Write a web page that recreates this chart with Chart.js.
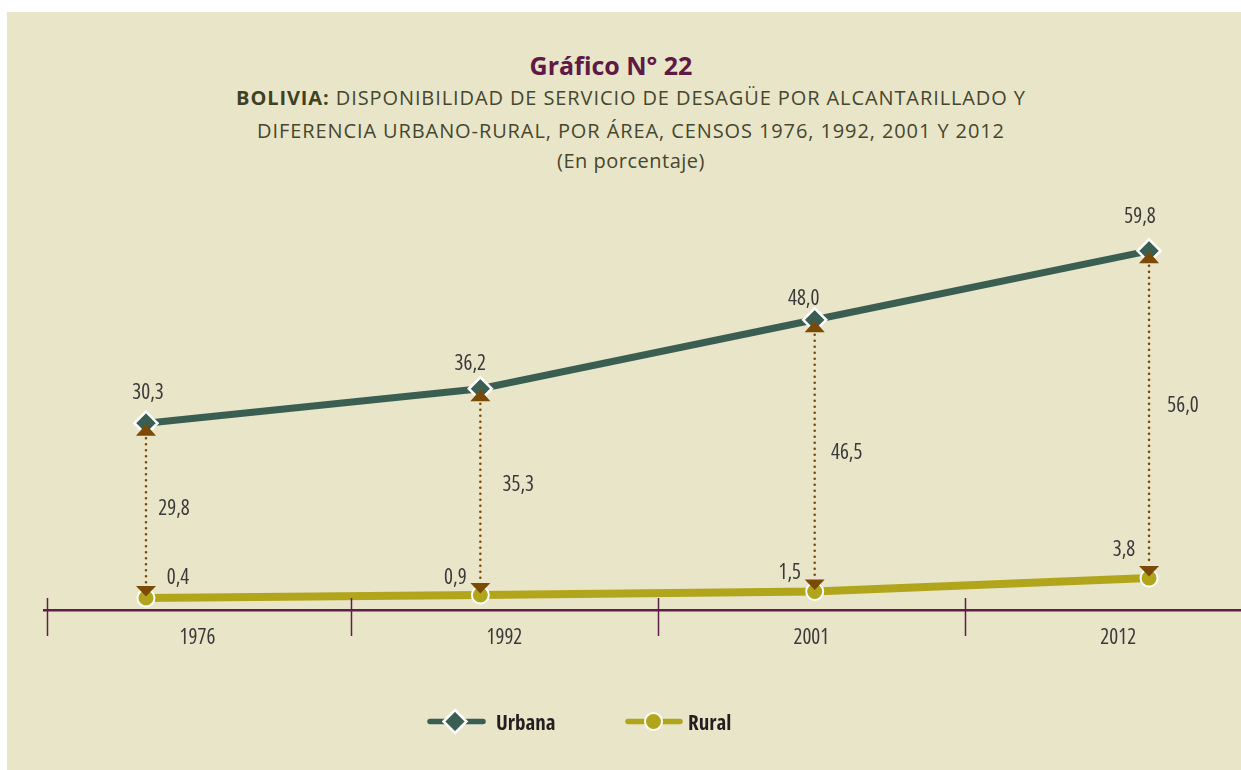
<!DOCTYPE html>
<html><head><meta charset="utf-8">
<script src="https://cdn.jsdelivr.net/npm/chart.js@4/dist/chart.umd.min.js"></script>
<style>
html,body{margin:0;padding:0;background:#fff;width:1241px;height:770px;overflow:hidden}
#panel{position:absolute;left:7px;top:12px;width:1234px;height:758px;background:#e9e5c8}
#chart{position:absolute;left:0;top:0}
.hdr{position:absolute;text-align:center;white-space:nowrap;font-family:"Open Sans",sans-serif;line-height:30px}
#t1{left:0;width:1208px;top:37.6px;font-size:25px;font-weight:bold;font-stretch:96%;color:#5e1944}
.sub{left:0;width:1248px;font-size:20px;letter-spacing:0.9px;color:#46472f}
#t2{top:70.9px}
#t3{top:103.5px}
#t4{top:133.7px;letter-spacing:0.5px}
.sub b{color:#3e4222}
</style></head>
<body>
<div id="panel">
  <div class="hdr" id="t1">Gráfico N° 22</div>
  <div class="hdr sub" id="t2"><b>BOLIVIA:</b> DISPONIBILIDAD DE SERVICIO DE DESAGÜE POR ALCANTARILLADO Y</div>
  <div class="hdr sub" id="t3">DIFERENCIA URBANO-RURAL, POR ÁREA, CENSOS 1976, 1992, 2001 Y 2012</div>
  <div class="hdr sub" id="t4">(En porcentaje)</div>
  <canvas id="chart" width="1234" height="758"></canvas>
</div>
<script>
const years = ['1976', '1992', '2001', '2012'];
const urbana = [30.3, 36.2, 48.0, 59.8];
const rural = [0.4, 0.9, 1.5, 3.8];
const diferencia = [29.8, 35.3, 46.5, 56.0];
const seriesNames = ['Urbana', 'Rural'];

const FAM = '"Open Sans", sans-serif';
const C_URB = '#3b5e52', C_RUR = '#b1a61b', C_BROWN = '#7a4a06', C_AXIS = '#5d1e47', C_TXT = '#3a3a3a';
const fmt = v => v.toFixed(1).replace('.', ',');
function setFont(ctx, spec) {
  ctx.font = 'condensed ' + spec + ' ' + FAM;
  if ('fontStretch' in ctx) ctx.fontStretch = 'condensed';
}

const deco = {
  id: 'deco',
  afterDatasetsDraw(chart, args, o) {
    const ctx = chart.ctx;
    const mu = chart.getDatasetMeta(0).data, mr = chart.getDatasetMeta(1).data;
    ctx.save();
    for (let i = 0; i < mu.length; i++) {
      const x = mu[i].x, uy = mu[i].y, ry = mr[i].y;
      ctx.strokeStyle = C_BROWN; ctx.lineWidth = 2.6; ctx.lineCap = 'round';
      ctx.setLineDash([0, 6]);
      ctx.beginPath(); ctx.moveTo(x, uy + 15); ctx.lineTo(x, ry - 14); ctx.stroke();
      ctx.setLineDash([]);
      ctx.fillStyle = C_BROWN;
      ctx.beginPath(); ctx.moveTo(x, uy + 1); ctx.lineTo(x + 10, uy + 12.5); ctx.lineTo(x - 10, uy + 12.5); ctx.closePath(); ctx.fill();
      ctx.beginPath(); ctx.moveTo(x, ry - 1.5); ctx.lineTo(x + 10, ry - 12); ctx.lineTo(x - 10, ry - 12); ctx.closePath(); ctx.fill();
    }
    setFont(ctx, '400 21px');
    ctx.fillStyle = C_TXT; ctx.textAlign = 'center'; ctx.textBaseline = 'alphabetic';
    const cap = 7.5;
    for (let i = 0; i < mu.length; i++) {
      const uo = o.urbOff[i], ro = o.rurOff[i], dofs = o.difOff[i];
      ctx.fillText(fmt(urbana[i]), mu[i].x + uo[0], mu[i].y + uo[1] + cap);
      ctx.fillText(fmt(rural[i]), mr[i].x + ro[0], mr[i].y + ro[1] + cap);
      ctx.fillText(fmt(diferencia[i]), mu[i].x + dofs[0], (mu[i].y + mr[i].y) / 2 + dofs[1] + cap);
    }
    ctx.restore();
  },
  afterDraw(chart) {
    const ctx = chart.ctx, s = chart.scales.xa;
    ctx.save();
    ctx.strokeStyle = C_AXIS; ctx.lineWidth = 1.5;
    for (let v = 0; v <= years.length - 1; v++) {
      const px = Math.round(Math.max(s.getPixelForValue(v), chart.chartArea.left + 3)) + 0.5;
      ctx.beginPath(); ctx.moveTo(px, s.top - 12); ctx.lineTo(px, s.top + 26); ctx.stroke();
    }
    // legend
    const ly = 709.5;
    ctx.lineCap = 'round';
    ctx.strokeStyle = C_URB; ctx.lineWidth = 5.5;
    ctx.beginPath(); ctx.moveTo(423, ly); ctx.lineTo(476, ly); ctx.stroke();
    ctx.fillStyle = C_URB; ctx.strokeStyle = '#fff'; ctx.lineWidth = 2.5;
    ctx.beginPath(); ctx.moveTo(448, ly - 11.5); ctx.lineTo(459.5, ly); ctx.lineTo(448, ly + 11.5); ctx.lineTo(436.5, ly); ctx.closePath(); ctx.fill(); ctx.stroke();
    ctx.strokeStyle = C_RUR; ctx.lineWidth = 5.5;
    ctx.beginPath(); ctx.moveTo(621, ly); ctx.lineTo(673, ly); ctx.stroke();
    ctx.fillStyle = C_RUR; ctx.strokeStyle = '#fff'; ctx.lineWidth = 2;
    ctx.beginPath(); ctx.arc(646.5, ly, 8.5, 0, Math.PI * 2); ctx.fill(); ctx.stroke();
    setFont(ctx, 'bold 21px');
    ctx.fillStyle = '#231f20'; ctx.textAlign = 'left'; ctx.textBaseline = 'alphabetic';
    ctx.fillText(seriesNames[0], 489, 718);
    ctx.fillText(seriesNames[1], 681, 718);
    ctx.restore();
  }
};

new Chart(document.getElementById('chart'), {
  type: 'line',
  data: {
    datasets: [
      { label: seriesNames[0], data: urbana.map((v, i) => ({ x: i, y: v })), xAxisID: 'x', yAxisID: 'y',
        borderColor: C_URB, borderWidth: 7, pointStyle: 'rectRot', pointRadius: 11.5, pointBackgroundColor: C_URB,
        pointBorderColor: '#fff', pointBorderWidth: 2.5, tension: 0, order: 1 },
      { label: seriesNames[1], data: rural.map((v, i) => ({ x: i, y: v })), xAxisID: 'x', yAxisID: 'y',
        borderColor: C_RUR, borderWidth: 8, pointStyle: 'circle', pointRadius: 8.5, pointBackgroundColor: C_RUR,
        pointBorderColor: '#fff', pointBorderWidth: 2, tension: 0, order: 0 }
    ]
  },
  options: {
    responsive: false, animation: false, devicePixelRatio: 1,
    layout: { autoPadding: false, padding: { top: 188, left: 37, right: 0, bottom: 0 } },
    plugins: {
      legend: { display: false }, tooltip: { enabled: false },
      deco: {
        urbOff: [[2, -32], [-10, -26], [-11, -22], [-9, -35]],
        rurOff: [[32, -21], [-25, -19], [-25, -20], [-25, -30]],
        difOff: [[28, -3], [38, -8], [32, -4], [34, -10]]
      }
    },
    scales: {
      x: { type: 'linear', display: false, min: -0.305, max: 3.275 },
      xa: {
        type: 'linear', position: 'bottom', min: 0, max: 3.9,
        afterFit(s) { s.height = 160; },
        afterBuildTicks(s) { s.ticks = years.map((_, i) => ({ value: i + 0.5 })); },
        grid: { display: false },
        border: { display: true, color: C_AXIS, width: 2.5 },
        ticks: { callback: (v, i) => years[i], font: { family: FAM, size: 21, weight: 'condensed 400' }, color: C_TXT, padding: 7, autoSkip: false, maxRotation: 0 }
      },
      y: { display: false, min: -1.66, max: 68.5 }
    }
  },
  plugins: [deco]
});
</script>
</body></html>
